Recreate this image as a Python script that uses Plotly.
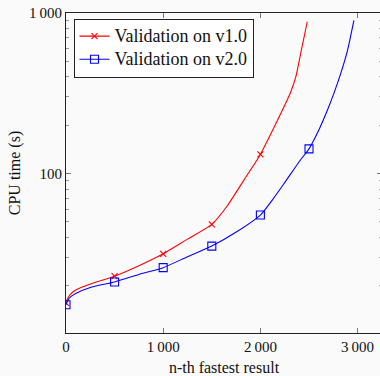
import plotly.graph_objects as go

# ---- data ----
v1_n = [0, 20, 50, 100, 250, 500, 750, 1000, 1250, 1500, 1660, 1830, 2000, 2110, 2222, 2310, 2365, 2415, 2482]
v1_t = [15.6, 16.8, 17.8, 18.8, 20.5, 22.9, 26.6, 31.6, 39.0, 48.2, 63.0, 91.0, 131.5, 178, 245, 320, 402, 562, 883]

v2_n = [0, 20, 50, 100, 250, 500, 750, 1000, 1250, 1500, 1760, 2000, 2120, 2240, 2410, 2500, 2585, 2690, 2755, 2825, 2895, 2962]
v2_t = [15.2, 16.3, 17.1, 17.9, 19.5, 21.1, 23.5, 25.9, 30.3, 35.3, 43.5, 55.1, 68.0, 86.0, 121.0, 142.5, 178, 249, 315, 418, 582, 900]

mark_every = 500
x_ticks = [0, 1000, 2000, 3000]
x_ticktext = ["0", "1\u2009000", "2\u2009000", "3\u2009000"]
y_ticks = [100, 1000]
y_ticktext = ["100", "1\u2009000"]

series = [
    ("Validation on v1.0", v1_n, v1_t, "#ff0000", "x-thin-open", 6),
    ("Validation on v2.0", v2_n, v2_t, "#0000ff", "square-open", 8),
]

FONT = "'Liberation Serif', 'DejaVu Serif', 'Times New Roman', serif"
fig = go.Figure()
for name, xs, ys, col, sym, msz in series:
    fig.add_trace(go.Scatter(x=xs, y=ys, mode="lines", line=dict(color=col, width=1.1, shape="spline", smoothing=0.6),
                             showlegend=False, hoverinfo="skip"))
    mx = [a for a in xs if a % mark_every == 0]
    my = [b for a, b in zip(xs, ys) if a % mark_every == 0]
    fig.add_trace(go.Scatter(x=mx, y=my, mode="markers",
                             marker=dict(symbol=sym, size=msz, color=col, line=dict(color=col, width=1.1)),
                             showlegend=False))
    fig.add_trace(go.Scatter(x=[None], y=[None], mode="lines+markers",
                             name='<span style="font-size:18px">' + name + '</span>',
                             line=dict(color=col, width=1.1),
                             marker=dict(symbol=sym, size=msz, color=col, line=dict(color=col, width=1.1))))

PW, PH = 316, 320  # plot area size in px
fig.update_layout(
    width=382, height=376,
    margin=dict(l=66, r=0, t=13, b=43, autoexpand=False),
    paper_bgcolor="#fafafa", plot_bgcolor="#fafafa",
    font=dict(family=FONT, size=15, color="#111"),
    legend=dict(x=7.5/PW, xanchor="left", y=1-5.5/PH, yanchor="top",
                bgcolor="white", bordercolor="#222", borderwidth=1,
                font=dict(family=FONT, size=15.5, color="#111"),
                tracegroupgap=0, itemwidth=30),
    xaxis=dict(range=[0, 3251], tickvals=x_ticks, ticktext=x_ticktext,
               ticks="inside", ticklen=5, tickcolor="#777", tickwidth=1,
               showline=True, linecolor="#222", linewidth=1, mirror="ticks",
               showgrid=False, zeroline=False, tickfont=dict(family=FONT, size=15),
               ticklabeloverflow="allow",
               title=dict(text="n-th fastest result", font=dict(family=FONT, size=16), standoff=8)),
    yaxis=dict(type="log", range=[1.006, 3.0005], tickvals=y_ticks, ticktext=y_ticktext,
               ticks="inside", ticklen=5, tickcolor="#777", tickwidth=1,
               minor=dict(ticks="inside", ticklen=3, tickcolor="#999", dtick="D1", showgrid=False),
               showline=True, linecolor="#222", linewidth=1, mirror="ticks",
               showgrid=False, zeroline=False, tickfont=dict(family=FONT, size=15),
               ticklabeloverflow="allow",
               title=dict(text="CPU time (s)", font=dict(family=FONT, size=16), standoff=4)),
)

fig.write_html("out.html", config={"displayModeBar": False},
               post_script="document.body.style.margin='0';")
